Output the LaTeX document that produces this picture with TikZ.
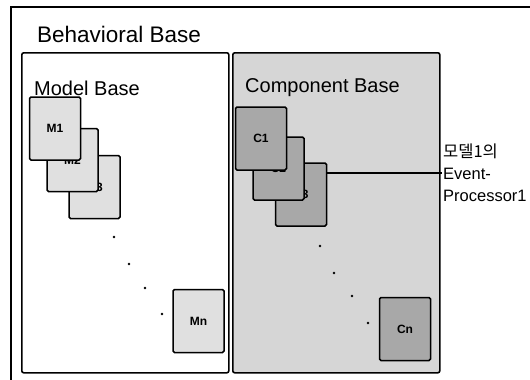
\documentclass[tikz,border=0pt]{standalone}
\usepackage{fontspec}
\setmainfont{Liberation Sans}
\newfontfamily\krfont{Noto Sans CJK KR}
\usetikzlibrary{positioning}

\definecolor{basegray}{gray}{0.84}
\definecolor{mgray}{gray}{0.88}
\definecolor{cgray}{gray}{0.66}

\tikzset{
  basebox/.style = {draw, line width=1.6pt, rounded corners=2pt, anchor=north west,
                    inner sep=0pt, minimum width=207pt, minimum height=320pt},
  mbox/.style    = {draw, line width=1.5pt, fill=mgray, rounded corners=1.5pt,
                    minimum width=51pt, minimum height=63pt, inner sep=0pt,
                    font=\fontsize{12}{13}\selectfont\bfseries},
  cbox/.style    = {mbox, fill=cgray},
  bdot/.style    = {circle, fill=black, inner sep=0pt, minimum size=2.8pt},
  title/.style   = {anchor=west, inner sep=0pt, font=\fontsize{20}{22}\selectfont}
}

\begin{document}
\begin{tikzpicture}[x=1pt, y=-1pt]
        \useasboundingbox (0,0) rectangle (530,380);

        % behavioral base frame
        \draw[line width=1.2pt] (545,7) -- (11,7) -- (11,395);
        \node[anchor=west, inner sep=0pt, font=\fontsize{22.5}{24}\selectfont] (bbase) at (37,34) {Behavioral Base};

        \begin{scope}
        \node[basebox] (mbase) at (21,52) {};
        \node[title] (mtitle) at (34,88) {Model Base};

        \node[mbox] (m3) at (94.5,187) {M3};
        \node[mbox] (m2) at (72.5,160) {M2};
        \node[mbox] (m1) at (55,128.5) {M1};

        \node[bdot] (md1) at (114,237) {};
        \node[bdot] (md2) at (129,264) {};
        \node[bdot] (md3) at (145,288) {};
        \node[bdot] (md4) at (162,314) {};

        \node[mbox] (mn) at (198.5,321) {Mn};
        \end{scope}

        \begin{scope}
        \node[basebox, fill=basegray] (cbase) at (232,52) {};
        \node[title] (ctitle) at (245,88) {Component Base};

        \node[cbox] (c3) at (301,194.5) {C3};
        \node[cbox] (c2) at (278.5,168.5) {C2};
        \node[cbox] (c1) at (261,138.5) {C1};

        \node[bdot] (cd1) at (320,246) {};
        \node[bdot] (cd2) at (334,273) {};
        \node[bdot] (cd3) at (352,296) {};
        \node[bdot] (cd4) at (368,323) {};

        \node[cbox] (cn) at (405,329) {Cn};
        \end{scope}

        \node[anchor=west, align=left, inner sep=1pt, font=\fontsize{16.5}{22}\selectfont] (evproc) at (442,173)
            {{\krfont 모델1의}\\Event-\\Processor1};
        \draw[line width=1.2pt] (c3.east |- evproc.west) -- (evproc.west);
\end{tikzpicture}
\end{document}
